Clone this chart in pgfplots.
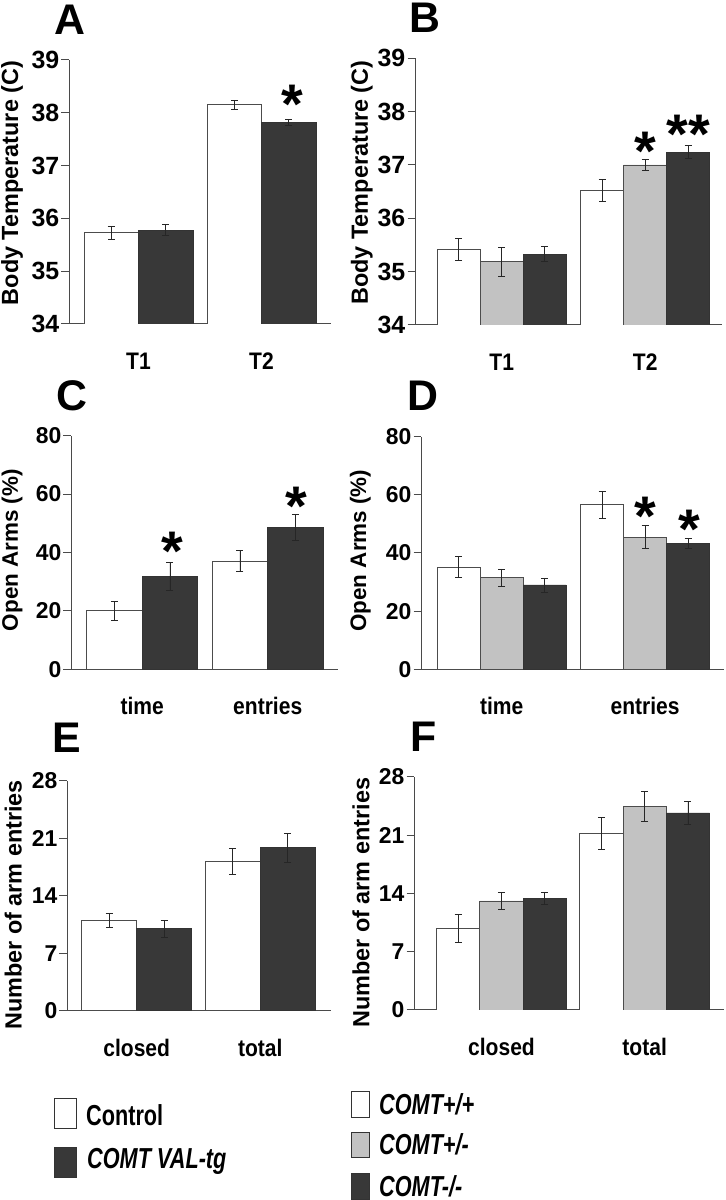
\documentclass[border=0pt]{standalone}
\usepackage{fontspec}
\setmainfont{Liberation Sans}
\newfontfamily\condfont{Liberation Sans}[FakeStretch=0.88]
\newfontfamily\legfont{Liberation Sans}[FakeStretch=0.75]
\usepackage{pgfplots}
\pgfplotsset{compat=1.18}
\definecolor{dk}{HTML}{383838}
\definecolor{gr}{HTML}{C2C2C2}
\definecolor{axc}{HTML}{4A4A4A}
\pgfplotsset{
  panel/.style={
    scale only axis, anchor=south west,
    axis lines*=left,
    axis line style={axc, line width=1bp},
    ybar=0pt,
    xtick={0,1},
    xtick style={draw=none},
    ytick style={axc, line width=1bp},
    tick align=outside, major tick length=7.5bp,
    /pgf/number format/assume math mode=true,
    yticklabel style={font=\bfseries\fontsize{25}{25}\selectfont, inner sep=0pt, xshift=-2bp},
    xticklabel style={font=\condfont\bfseries\fontsize{24}{24}\selectfont, anchor=base, inner sep=0pt, yshift=-38bp},
    every axis y label/.style={rotate=90, anchor=center, inner sep=0pt, font=\bfseries\fontsize{23.5}{23.5}\selectfont},
    enlargelimits=false,
    error bars/y dir=both, error bars/y explicit,
    error bars/error bar style={black!85, line width=0.8bp},
    error bars/error mark options={rotate=90, black!85, line width=0.8bp, mark size=3.5bp},
  },
  wb/.style={fill=white, draw=black!70, line width=0.8bp},
  gb/.style={fill=gr, draw=black!70, line width=0.8bp},
  db/.style={fill=dk, draw=black!80, line width=0.8bp},
}
\tikzset{
  sstar/.style={font=\bfseries\fontsize{56}{56}\selectfont, inner sep=0pt, anchor=north},
  letter/.style={font=\bfseries\fontsize{43}{43}\selectfont, inner sep=0pt, anchor=center},
}
\begin{document}
\begin{tikzpicture}
\path[use as bounding box] (0bp,0bp) rectangle (726bp,1200bp);
% ---------- A
\begin{axis}[panel, at={(69bp,876bp)}, width=262bp, height=264bp,
  xmin=-0.565, xmax=1.565, ymin=34, ymax=39, ytick={34,35,36,37,38,39},
  bar width=54.5bp, xticklabels={T1,T2},
  ylabel={Body Temperature (C)}, ylabel style={at={(axis description cs:-0.217,0.534)}}]
\addplot[wb] coordinates {(0,35.73) +- (0,0.12) (1,38.15) +- (0,0.09)};
\addplot[db] coordinates {(0,35.78) +- (0,0.10) (1,37.82) +- (0,0.06)};
\node[sstar] at (axis cs:1.248,38.53) {*};
\end{axis}
% ---------- B
\begin{axis}[panel, at={(415bp,875bp)}, width=307bp, height=266.7bp,
  xmin=-0.604, xmax=1.535, ymin=34, ymax=39, ytick={34,35,36,37,38,39},
  bar width=43bp, xticklabels={T1,T2},
  ylabel={Body Temperature (C)}, ylabel style={at={(axis description cs:-0.173,0.534)}}]
\addplot[wb] coordinates {(0,35.42) +- (0,0.20) (1,36.52) +- (0,0.21)};
\addplot[gb] coordinates {(0,35.19) +- (0,0.27) (1,37.00) +- (0,0.11)};
\addplot[db] coordinates {(0,35.33) +- (0,0.14) (1,37.24) +- (0,0.12)};
\node[sstar] at (axis cs:1.0,37.62) {*};
\node[sstar] at (axis cs:1.3,37.94) {**};
\end{axis}
% ---------- C
\begin{axis}[panel, at={(71bp,530.7bp)}, width=267bp, height=233.6bp,
  xmin=-0.567, xmax=1.56, ymin=0, ymax=80, ytick={0,20,40,60,80},
  yticklabel style={font=\bfseries\fontsize{23}{23}\selectfont},
  bar width=55.5bp, xticklabels={time,entries},
  ylabel={Open Arms (\%)}, ylabel style={at={(axis description cs:-0.221,0.51)}, font=\bfseries\fontsize{22.5}{22.5}\selectfont}]
\addplot[wb] coordinates {(0,20.0) +- (0,3.1) (1,37.1) +- (0,3.5)};
\addplot[db] coordinates {(0,31.9) +- (0,4.8) (1,48.6) +- (0,4.4)};
\node[sstar] at (axis cs:0.237,47.0) {*};
\node[sstar] at (axis cs:1.225,62.4) {*};
\end{axis}
% ---------- D
\begin{axis}[panel, at={(421bp,530.7bp)}, width=303bp, height=232.6bp,
  xmin=-0.563, xmax=1.55, ymin=0, ymax=80, ytick={0,20,40,60,80},
  yticklabel style={font=\bfseries\fontsize{23}{23}\selectfont},
  bar width=43bp, xticklabels={time,entries},
  ylabel={Open Arms (\%)}, ylabel style={at={(axis description cs:-0.20,0.51)}, font=\bfseries\fontsize{22.5}{22.5}\selectfont}]
\addplot[wb] coordinates {(0,35.1) +- (0,3.6) (1,56.6) +- (0,4.7)};
\addplot[gb] coordinates {(0,31.5) +- (0,3.0) (1,45.5) +- (0,3.9)};
\addplot[db] coordinates {(0,29.0) +- (0,2.4) (1,43.3) +- (0,1.8)};
\node[sstar] at (axis cs:1.0,59.3) {*};
\node[sstar] at (axis cs:1.31,54.8) {*};
\end{axis}
% ---------- E
\begin{axis}[panel, at={(67bp,189.3bp)}, width=264bp, height=230bp,
  xmin=-0.564, xmax=1.573, ymin=0, ymax=28, ytick={0,7,14,21,28},
  yticklabel style={font=\bfseries\fontsize{23}{23}\selectfont},
  bar width=55bp, xticklabels={closed,total},
  ylabel={Number of arm entries}, ylabel style={at={(axis description cs:-0.204,0.46)}}]
\addplot[wb] coordinates {(0,11.0) +- (0,0.9) (1,18.2) +- (0,1.6)};
\addplot[db] coordinates {(0,9.98) +- (0,1.0) (1,19.85) +- (0,1.75)};
\end{axis}
% ---------- F
\begin{axis}[panel, at={(414bp,190bp)}, width=310bp, height=233bp,
  xmin=-0.611, xmax=1.554, ymin=0, ymax=28, ytick={0,7,14,21,28},
  yticklabel style={font=\bfseries\fontsize{23}{23}\selectfont},
  bar width=43.3bp, xticklabels={closed,total},
  ylabel={Number of arm entries}, ylabel style={at={(axis description cs:-0.171,0.46)}}]
\addplot[wb] coordinates {(0,9.78) +- (0,1.65) (1,21.2) +- (0,1.9)};
\addplot[gb] coordinates {(0,13.1) +- (0,1.05) (1,24.48) +- (0,1.8)};
\addplot[db] coordinates {(0,13.38) +- (0,0.75) (1,23.68) +- (0,1.35)};
\end{axis}
% ---------- panel letters
\node[letter] at (70bp,1180bp) {A};
\node[letter] at (425bp,1182bp) {B};
\node[letter] at (71.7bp,804bp) {C};
\node[letter] at (423bp,804bp) {D};
\node[letter] at (66.5bp,462.5bp) {E};
\node[letter] at (424bp,463bp) {F};
% ---------- legends
\draw[fill=white, draw=black!80, line width=0.9bp] (54bp,72bp) rectangle (76bp,102bp);
\draw[fill=dk, draw=black!80, line width=0.9bp] (54bp,23bp) rectangle (76bp,53bp);
\node[anchor=west, inner sep=0pt, font=\legfont\bfseries\fontsize{29}{29}\selectfont] at (86bp,85bp) {Control};
\node[anchor=west, inner sep=0pt, font=\legfont\bfseries\itshape\fontsize{29}{29}\selectfont] at (87bp,39bp) {COMT VAL-tg};
\draw[fill=white, draw=black!80, line width=0.9bp] (351bp,83bp) rectangle (369bp,109bp);
\draw[fill=gr, draw=black!80, line width=0.9bp] (351bp,43bp) rectangle (369bp,68bp);
\draw[fill=dk, draw=black!80, line width=0.9bp] (351bp,0.5bp) rectangle (369bp,27bp);
\node[anchor=west, inner sep=0pt, font=\legfont\bfseries\itshape\fontsize{29}{29}\selectfont] at (379bp,96bp) {COMT+/+};
\node[anchor=west, inner sep=0pt, font=\legfont\bfseries\itshape\fontsize{29}{29}\selectfont] at (379bp,56bp) {COMT+/-};
\node[anchor=west, inner sep=0pt, font=\legfont\bfseries\itshape\fontsize{29}{29}\selectfont] at (379bp,14bp) {COMT-/-};
\end{tikzpicture}
\end{document}
